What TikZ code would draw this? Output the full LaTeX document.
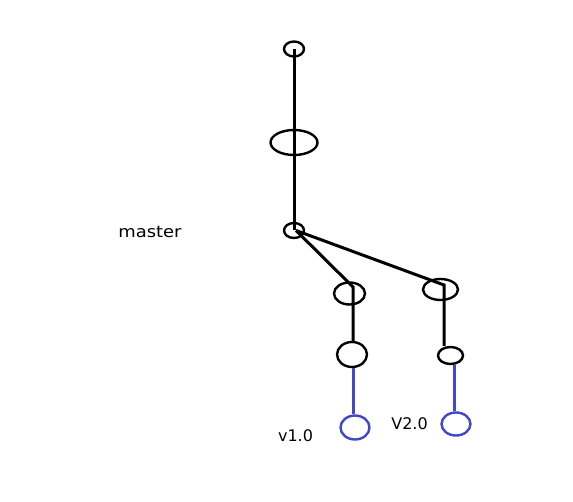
\documentclass[tikz,border=0pt]{standalone}
\usepackage{fontspec}
\setmainfont{DejaVu Sans}
\usetikzlibrary{shapes.geometric}
\definecolor{paintblue}{RGB}{63,72,204}
\tikzset{
  commit/.style={draw=black, shape=ellipse, inner sep=0pt, line width=2.4pt},
  bluecommit/.style={commit, draw=paintblue},
  edge/.style={line width=3pt, black},
  blueedge/.style={line width=3pt, paintblue},
  lbl/.style={font=\fontsize{16}{18}\selectfont, inner sep=0pt}
}
\begin{document}
\begin{tikzpicture}[x=1pt, y=-1pt]
\useasboundingbox (0,0) rectangle (573,502);
\fill[white] (0,0) rectangle (573,502);
\node[commit, minimum width=20pt, minimum height=15pt] (c1) at (294,49) {};
\node[commit, minimum width=47pt, minimum height=25pt] (c2) at (294,142.5) {};
\node[commit, minimum width=20pt, minimum height=15pt] (m) at (294,230.5) {};
\node[commit, minimum width=31pt, minimum height=22pt] (l1) at (349.5,293.5) {};
\node[commit, minimum width=30pt, minimum height=25pt] (l2) at (352,354.5) {};
\node[bluecommit, minimum width=29pt, minimum height=24pt] (b1) at (355,427.5) {};
\node[commit, minimum width=35pt, minimum height=21pt] (r1) at (440.5,289.5) {};
\node[commit, minimum width=25pt, minimum height=17pt] (r2) at (450.5,355.5) {};
\node[bluecommit, minimum width=29pt, minimum height=23pt] (b2) at (456,424) {};
\draw[edge] (c1.center) -- (m.center);
\draw[edge] ([xshift=2pt]m.center) -- ([xshift=3.5pt,yshift=6.5pt]l1.center)
  -- ([xshift=3.5pt]l1.center |- l2.north);
\draw[edge] ([xshift=2pt]m.center) -- ([xshift=3.5pt,yshift=4.5pt]r1.center)
  -- ([xshift=3.5pt]r1.center |- r2.north);
\draw[blueedge] ([xshift=1pt]l2.south) -- ([xshift=1pt]l2.south |- b1.north);
\draw[blueedge] ([xshift=-2pt]b2.north |- r2.south) -- ([xshift=-2pt]b2.north);
\node[lbl, xscale=1.12] (tmaster) at (150,232) {master};
\node[lbl] (tv1) at (295.5,436) {v1.0};
\node[lbl] (tv2) at (409.5,424) {V2.0};
\end{tikzpicture}
\end{document}
